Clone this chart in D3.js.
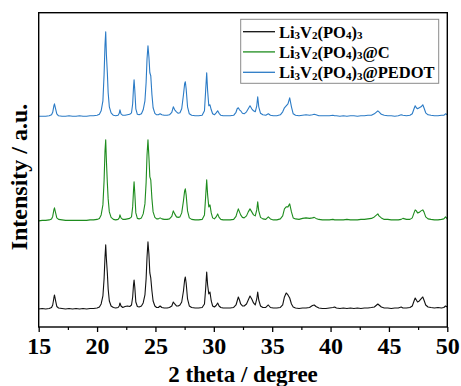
<!DOCTYPE html>
<html><head><meta charset="utf-8">
<script src="https://cdn.jsdelivr.net/npm/d3@7"></script>
<style>body{margin:0;background:#fff}svg{display:block}</style>
</head><body><svg id="c" width="461" height="386"></svg>
<script>
const theta = [
15.0,15.3,15.6,15.9,16.1,16.2,16.3,16.35,16.45,16.55,
16.7,17.0,17.3,17.6,17.9,18.2,18.5,18.8,19.1,19.4,
19.7,20.0,20.2,20.35,20.5,20.6,20.68,20.74,20.8,20.88,
20.95,21.05,21.2,21.4,21.6,21.8,21.9,21.96,22.05,22.2,
22.4,22.6,22.8,22.95,23.05,23.12,23.17,23.23,23.32,23.45,
23.6,23.8,23.95,24.1,24.2,24.28,24.36,24.44,24.52,24.6,
24.7,24.8,24.95,25.1,25.25,25.4,25.55,25.75,26.0,26.2,
26.4,26.53,26.65,26.8,26.95,27.1,27.25,27.4,27.5,27.56,
27.63,27.75,27.9,28.1,28.4,28.7,29.0,29.2,29.3,29.39,
29.47,29.57,29.67,29.78,29.9,30.05,30.2,30.33,30.45,30.6,
30.8,31.1,31.4,31.7,31.9,32.0,32.1,32.2,32.3,32.45,
32.6,32.8,32.95,33.1,33.25,33.4,33.55,33.68,33.76,33.85,
34.0,34.2,34.45,34.67,34.85,35.1,35.4,35.7,35.9,36.05,
36.2,36.35,36.5,36.65,36.8,37.0,37.3,37.6,37.9,38.2,
38.45,38.6,38.75,39.0,39.3,39.6,39.9,40.2,40.35,40.5,
40.8,41.1,41.4,41.7,42.0,42.3,42.6,42.9,43.2,43.5,
43.75,43.95,44.05,44.15,44.35,44.6,44.9,45.2,45.5,45.8,
46.05,46.2,46.5,46.8,47.0,47.15,47.25,47.35,47.45,47.6,
47.75,47.9,48.0,48.15,48.35,48.6,48.9,49.2,49.5,49.7,
49.85,50.0];

const lvp = [
0,0.5,0,0.5,1.5,4,11,14,8,2.5,
1,0.5,0,0.5,0,0.5,0,0.5,0,0.5,
0.5,1,2,5,13,30,52,64,50,36,
20,8,3,1.5,1,1.5,3,6,3,1.5,
2.5,3,2.5,4,12,24,29,22,7,2.5,
2,3,6,14,30,52,67,55,36,31,
18,8,3,1.5,1.5,3,1.5,1,1,1.5,
3,7,5,3,3,4,7,18,29,32,
26,10,3,1.5,1,1,1.5,5,20,37,
24,15,17,8,3,2,3.5,6,3,1.5,
1,1,1,1.5,4,8,12,9,5,3,
3,5,9,13,10,6,4,10,17,9,
3,1.5,1.5,4,1.5,1,1,1.5,4,12,
16,14,11,5,2,1,0.5,1,1,1.5,
3.5,4,2.5,1,0.5,0.5,1,1.5,2,1,
0.5,1,0.5,1,0.5,1,0.5,1,1,1.5,
2,4,5,4,2,1,1,0.5,1,1,
2,1,1,1.5,3,8,11,9,7,8,
10,12,9,4,2,1.5,1,1.5,1,1.5,
3,2];

const lvpC = [
0,0.5,0.5,1,2,4.5,11,13,8,3,
1.5,1,0.5,0.5,0.5,0.5,0.5,0.5,0.5,1,
1,1.5,2.5,6,16,40,70,81,60,38,
22,9,3.5,1.5,1,1.5,3,6,3,1.5,
1.5,2,2.5,4,14,30,39,28,8,2.5,
2,3,7,17,38,66,81,64,44,41,
22,9,3.5,2,2,3,2,1.5,1.5,2,
4.5,10,7,4,3.5,4,8,20,30,32,
26,10,3,1.5,1,1,1.5,6,24,41,
26,14,16,8,3,2,4,7,3.5,1.5,
1,1,1,1.5,4.5,8.5,12,9,6,3.5,
3,5,9,12,9,6,5,11,19,10,
3.5,2,1.5,4,2,1,1,2,5,12,
14,14,17,9,3,2,1.5,2.5,3,2.5,
3,3.5,2.5,1.5,1,1,1,1.5,1,1,
1,1,1.5,1,1,1,1.5,1.5,2,2.5,
4,6,7,5,3,1.5,1.5,1,1,1,
1.5,2.5,1.5,1.5,3,8,11,10,8,8.5,
10,11,9,4,2,1.5,1,1,1.5,2,
4,2];

const lvpPEDOT = [
0.5,0.5,0.5,1,2,4.5,11,13,8,3,
1,0.5,0.5,1,0.5,0.5,1,0.5,0.5,1,
1,1.5,2.5,6,16,42,72,85,62,44,
24,10,4,1.5,1,1.5,3.5,7,3,1.5,
1.5,2,2.5,4,13,29,37,27,8,2.5,
2,3,7,16,34,58,71,60,44,41,
22,9,3.5,2,2,3,2,1.5,1.5,2,
4.5,10,7,5,3.5,4,8,22,33,35,
28,10,3,1.5,1,1,1.5,6,26,44,
26,11,12,7,3,2,4,6,3.5,1.5,
1,1,1,1.5,4.5,8,9,7,6,3.5,
3,5,8,11,8,6,5,11,20,10,
3.5,2,1.5,3,1.5,1,1,2,5,9,
11,13,19,10,3,1.5,1,1.5,2,1.5,
2,2.5,2,1,1,1,1,1.5,1,1,
0.5,1,0.5,1,1,0.5,1,1,1.5,1.5,
3,5,6,5,2.5,1.5,1,1,0.5,1,
2,1.5,1,1.5,3,8,11,9,8,9,
10,12,9,4,2,1.5,1,1,1.5,1.5,
3,2];

const seriesNames = ["Li3V2(PO4)3", "Li3V2(PO4)3@C", "Li3V2(PO4)3@PEDOT"];
const seriesValues = [lvp, lvpC, lvpPEDOT];
const seriesOffsets = [18, 106, 210];
const seriesColors = ["#111111", "#1e8c1e", "#2b7bc6"];
const xTicks = [15, 20, 25, 30, 35, 40, 45, 50];
const xMinorTicks = [17.5, 22.5, 27.5, 32.5, 37.5, 42.5, 47.5];

const svg = d3.select("#c");
const L = 38.7, R = 447.3, T = 12.7, B = 327;
const x = d3.scaleLinear().domain([15, 50]).range([L, R]);
const y = d3.scaleLinear().domain([0, 314]).range([B, T]);
const font = "Liberation Serif, Times New Roman, serif";

const line = d3.line().x(d => x(d[0])).y(d => y(d[1]));
seriesValues.forEach((vals, i) => {
  const pts = theta.map((t, k) => [t, vals[k] + seriesOffsets[i]]);
  svg.append("path").datum(pts).attr("d", line)
    .attr("fill", "none").attr("stroke", seriesColors[i]).attr("stroke-width", 1.1)
    .attr("stroke-linejoin", "round");
});

// frame
svg.append("rect").attr("x", L).attr("y", T).attr("width", R - L).attr("height", B - T)
  .attr("fill", "none").attr("stroke", "#000").attr("stroke-width", 1.4);

// x axis
const gx = svg.append("g").attr("transform", `translate(0,${B})`)
  .call(d3.axisBottom(x).tickValues(xTicks).tickSize(5).tickPadding(5).tickFormat(d3.format("d")));
gx.attr("font-family", font).attr("font-size", 24).attr("font-weight", "bold");
gx.select(".domain").remove();
gx.selectAll(".tick line").attr("stroke-width", 1.3);
gx.selectAll("text").style("font-family", font).style("font-weight", "bold")
  .style("font-size", "24px").attr("fill", "#000");
const gm = svg.append("g").attr("transform", `translate(0,${B})`)
  .call(d3.axisBottom(x).tickValues(xMinorTicks).tickSize(3).tickFormat(""));
gm.select(".domain").remove();
gm.selectAll(".tick line").attr("stroke-width", 1.2);

// axis titles
svg.append("text").attr("x", (L + R) / 2).attr("y", 382).attr("text-anchor", "middle")
  .style("font-family", font).style("font-weight", "bold").style("font-size", "23px")
  .text("2 theta / degree");
svg.append("text").attr("transform", "translate(27,177) rotate(-90)").attr("text-anchor", "middle")
  .style("font-family", font).style("font-weight", "bold").style("font-size", "24px")
  .text("Intensity / a.u.");

// legend
const lg = svg.append("g");
lg.append("rect").attr("x", 240.7).attr("y", 19.3).attr("width", 198).attr("height", 64)
  .attr("fill", "#fff").attr("stroke", "#8a8a8a").attr("stroke-width", 1);
const rows = [31.7, 51.9, 72.3];
seriesNames.forEach((name, i) => {
  lg.append("line").attr("x1", 243).attr("x2", 275).attr("y1", rows[i]).attr("y2", rows[i])
    .attr("stroke", seriesColors[i]).attr("stroke-width", 1.3);
  const t = lg.append("text").attr("x", 279).attr("y", rows[i] + 6)
    .style("font-family", font).style("font-weight", "bold").style("font-size", "16.5px");
  const parts = name.match(/\d|[^\d]+/g);
  let shifted = false;
  parts.forEach(p => {
    if (/\d/.test(p)) {
      t.append("tspan").style("font-size", "11px").attr("dy", shifted ? 0 : 1.5).text(p);
      shifted = true;
    } else {
      t.append("tspan").attr("dy", shifted ? -1.5 : 0).text(p);
      shifted = false;
    }
  });
});
</script></body></html>
